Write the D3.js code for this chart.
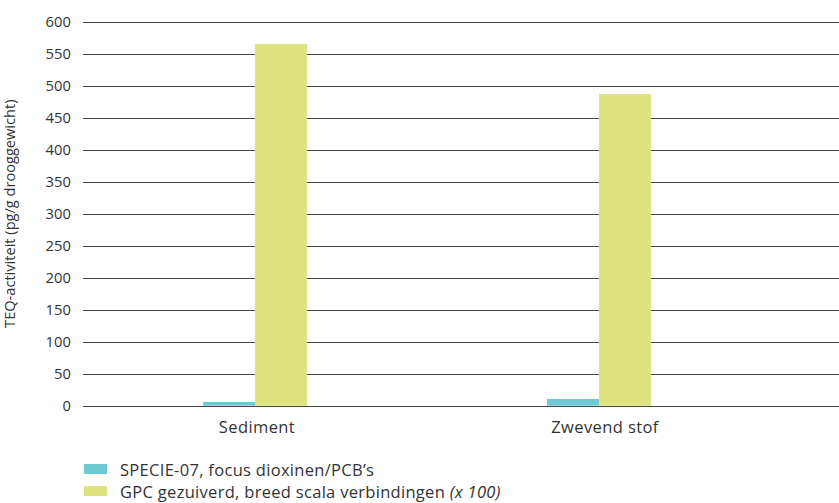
<!DOCTYPE html>
<html>
<head>
<meta charset="utf-8">
<script src="https://cdn.jsdelivr.net/npm/d3@7"></script>
<style>
  body { margin: 0; background: #fff; }
  text { font-family: "Open Sans", "Noto Sans", sans-serif; fill: #333; }
</style>
</head>
<body>
<div id="chart"></div>
<script>
const categories = ['Sediment', 'Zwevend stof'];
const seriesNames = ['SPECIE-07, focus dioxinen/PCB\u2019s', 'GPC gezuiverd, breed scala verbindingen'];
const specieValues = [5.8, 10.5];
const gpcValues = [565, 487];
const yTicks = [0, 50, 100, 150, 200, 250, 300, 350, 400, 450, 500, 550, 600];
const colours = ['#6dc9d4', '#dde47f'];

const width = 839, height = 503;
const margin = { top: 21.7, left: 83, bottom: 97.3 };

const svg = d3.select('#chart').append('svg')
    .attr('width', width)
    .attr('height', height);

// scales
const x = d3.scaleBand()
    .domain(categories)
    .range([margin.left, 771]);
const inner = d3.scaleBand()
    .domain([0, 1])
    .range([0, 104])
    .padding(0);
const y = d3.scaleLinear()
    .domain([0, 600])
    .range([height - margin.bottom, margin.top]);

// gridlines
svg.append('g')
  .selectAll('line')
  .data(yTicks)
  .join('line')
    .attr('x1', margin.left)
    .attr('x2', width)
    .attr('y1', d => Math.round(y(d)) + 0.5)
    .attr('y2', d => Math.round(y(d)) + 0.5)
    .attr('stroke', '#444')
    .attr('stroke-width', 1.2);

// y tick labels
svg.append('g')
  .selectAll('text')
  .data(yTicks)
  .join('text')
    .attr('x', 71)
    .attr('y', d => y(d) + 5)
    .attr('text-anchor', 'end')
    .attr('font-size', 14.8)
    .text(d => d);

// y axis title
svg.append('text')
    .attr('transform', `translate(15,${(y(0) + y(600)) / 2}) rotate(-90)`)
    .attr('text-anchor', 'middle')
    .attr('font-size', 14.6)
    .text('TEQ-activiteit (pg/g drooggewicht)');

// bars
const series = [specieValues, gpcValues];
series.forEach((vals, si) => {
  svg.append('g')
    .selectAll('rect')
    .data(categories)
    .join('rect')
      .attr('x', (d) => x(d) + x.bandwidth() / 2 - 52 + inner(si))
      .attr('width', inner.bandwidth())
      .attr('y', (d, i) => y(vals[i]))
      .attr('height', (d, i) => y(0) - y(vals[i]))
      .attr('fill', colours[si]);
});

// category labels
svg.append('g')
  .selectAll('text')
  .data(categories)
  .join('text')
    .attr('x', (d, i) => x(d) + x.bandwidth() / 2 + 2 + i * 4)
    .attr('y', 433)
    .attr('text-anchor', 'middle')
    .attr('font-size', 16.5)
    .attr('letter-spacing', 0.4)
    .text(d => d);

// legend
const legend = svg.append('g');
seriesNames.forEach((name, i) => {
  legend.append('rect')
      .attr('x', 84)
      .attr('y', 464 + i * 22)
      .attr('width', 23)
      .attr('height', 10)
      .attr('fill', colours[i]);
  const t = legend.append('text')
      .attr('x', 120)
      .attr('y', 476 + i * 22)
      .attr('font-size', 16.5)
      .attr('letter-spacing', 0.3)
      .text(name);
  if (i === 1) {
    t.append('tspan').text(' ');
    t.append('tspan').attr('font-style', 'italic').text('(x 100)');
  }
});
</script>
</body>
</html>
